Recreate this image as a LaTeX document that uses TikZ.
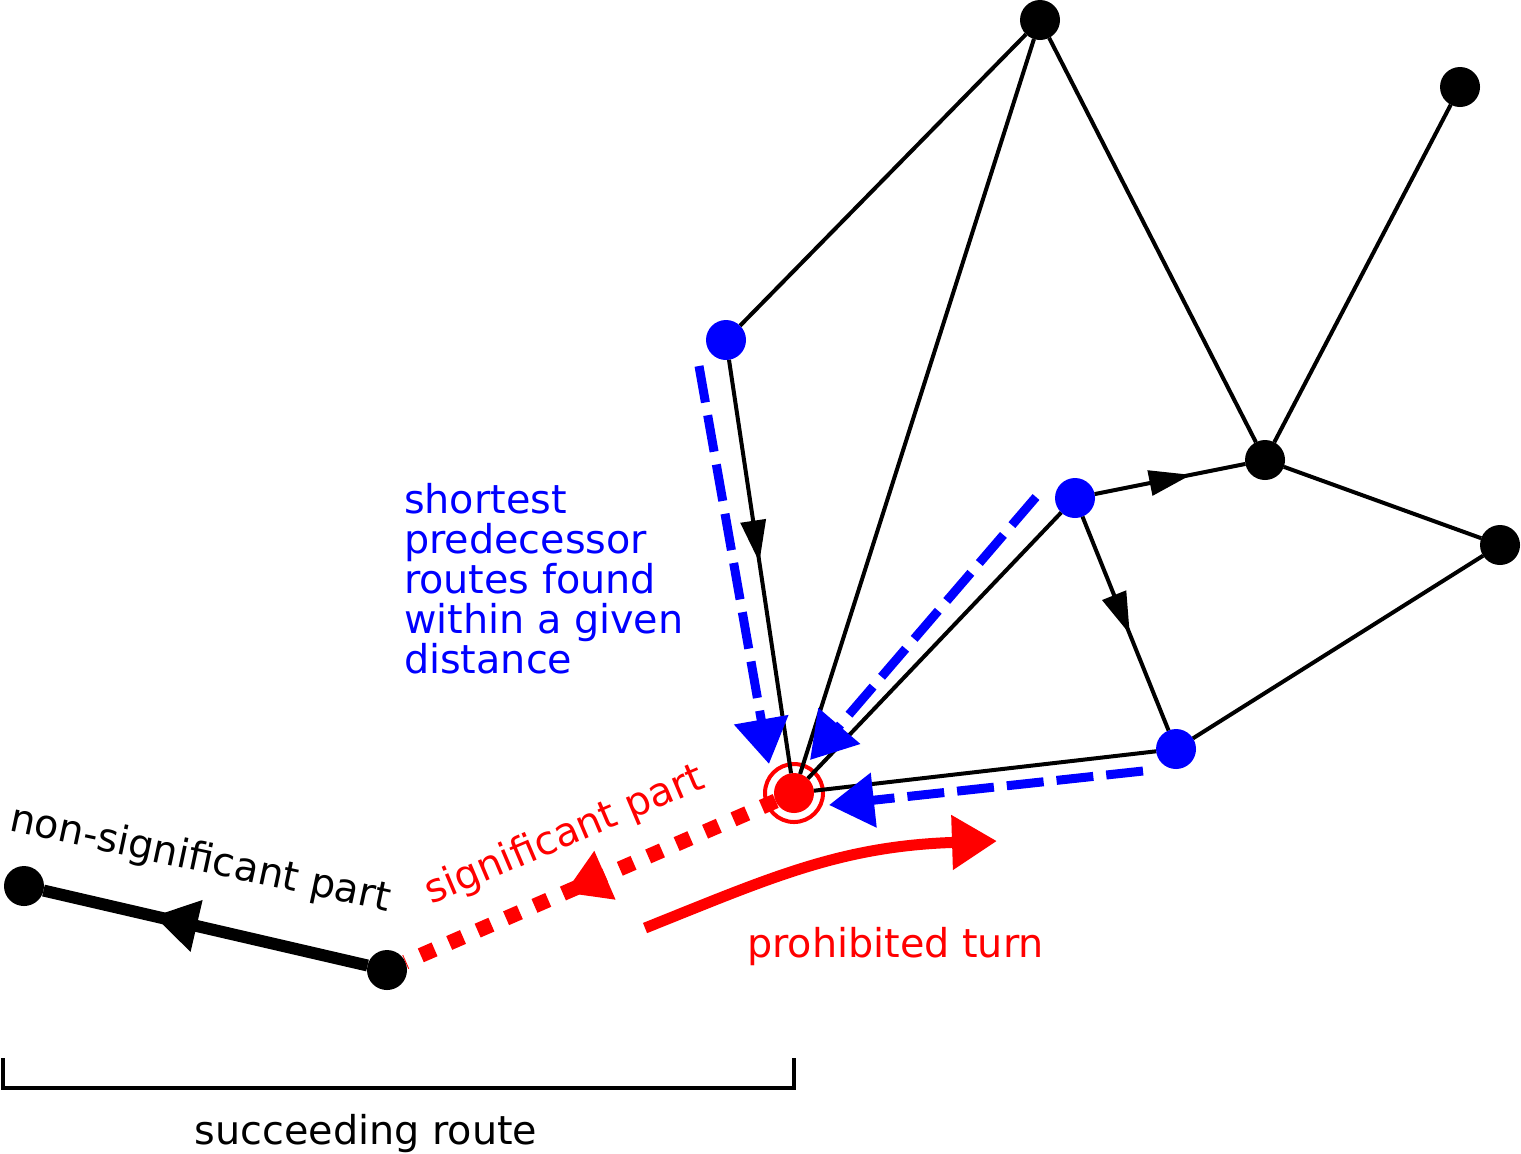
\documentclass[tikz,border=0pt]{standalone}
\usepackage{fontspec}
\setmainfont{DejaVu Sans}
\usetikzlibrary{arrows.meta,decorations.markings}
\begin{document}
\begin{tikzpicture}[x=0.1mm,y=-0.1mm,line width=0.4mm,
font=\fontsize{11.3}{11.38}\selectfont,
vertex/.style={circle,fill,inner sep=0pt,outer sep=0pt,minimum size=4mm},
bluevertex/.style={vertex,fill=blue},
target/.style={vertex,fill=red},
ring/.style={circle,draw=red,line width=0.4mm,inner sep=0pt,minimum size=5.8mm},
txt/.style={inner sep=0pt},
edgearrow/.style={postaction={decorate},decoration={markings,mark=at position #1 with {\arrow{Triangle[length=4.2mm,width=2.5mm]}}}},
routearrow/.style={postaction={decorate},decoration={markings,mark=at position #1 with {\arrow{Triangle[length=4.4mm,width=5mm]}}}},
searchpath/.style={blue,line width=0.9mm,dash pattern=on 3.7mm off 1.3mm,-{Triangle[length=4.5mm,width=5.3mm]}},
sigpath/.style={red,line width=1.5mm,dash pattern=on 1.5mm off 1.6mm},
turnpath/.style={red,line width=1.1mm,-{Triangle[length=4.5mm,width=5.2mm]}}]

\useasboundingbox (0,0) rectangle (1521,1153);

\draw (1040,20) node[vertex] (t) {};
\draw (1460,87) node[vertex] (tr) {};
\draw (1265,460) node[vertex] (h) {};
\draw (1500,545) node[vertex] (r) {};
\draw (726,340) node[bluevertex] (b1) {};
\draw (1075,498) node[bluevertex] (b2) {};
\draw (1176,749) node[bluevertex] (b3) {};
\draw (794,793) node[ring] (xring) {};
\draw (794,793) node[target] (x) {};
\draw (387,970) node[vertex] (s) {};
\draw (24,886) node[vertex] (l) {};

\coordinate (p1) at (699,366);
\coordinate (q1) at (769,764);
\coordinate (p2) at (1036,497);
\coordinate (q2) at (810,760);
\coordinate (p3) at (1143,771);
\coordinate (q3) at (829,805);
\coordinate (t1) at (645,928);
\coordinate (t2) at (997,841);
\coordinate (bl) at (3,1058);
\coordinate (br) at (794,1058);

\draw (b1) -- (t);
\draw (t) -- (x);
\draw (t) -- (h);
\draw (tr) -- (h);
\draw (h) -- (r);
\draw (r) -- (b3);
\draw (b3) -- (x);
\draw (b2) -- (x);
\draw[edgearrow=0.49] (b1) -- (x);
\draw[edgearrow=0.64] (b2) -- (h);
\draw[edgearrow=0.55] (b2) -- (b3);

\draw[searchpath] (p1) -- (q1);
\draw[searchpath] (p2) -- (q2);
\draw[searchpath] (p3) -- (q3);

\draw[line width=1.2mm,routearrow=0.66] (s) -- (l);
\draw[sigpath,routearrow=0.57] (x) -- (s);
\draw[turnpath] (t1) .. controls (770,878) and (840,846) .. (t2);

\draw (bl) -- ++(0,30) -| (br);

\draw (402,481) node[txt,anchor=north west,align=left,text=blue] (searchlabel) {shortest\\predecessor\\routes found\\within a given\\distance};
\draw (198,871) node[txt,anchor=base,rotate=-12] (nslabel) {non-significant part};
\draw (569,846) node[txt,anchor=base,rotate=23,text=red] (siglabel) {significant part};
\draw (745,957) node[txt,anchor=base west,text=red] (turnlabel) {prohibited turn};
\draw (366,1144) node[txt,anchor=base] (routelabel) {succeeding route};
\end{tikzpicture}
\end{document}
